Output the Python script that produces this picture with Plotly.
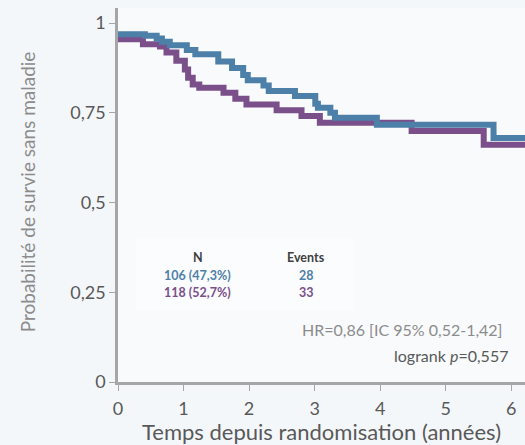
import plotly.graph_objects as go

# Kaplan-Meier steps (time in years, survival probability)
blue_t = [0, 0.41, 0.59, 0.67, 0.79, 1.05, 1.18, 1.53, 1.74, 1.91, 1.98, 2.22, 2.30, 2.70, 3.01, 3.05, 3.24, 3.31, 3.95, 5.73, 6.21]
blue_s = [0.969, 0.965, 0.957, 0.948, 0.938, 0.925, 0.913, 0.893, 0.875, 0.855, 0.841, 0.826, 0.811, 0.797, 0.775, 0.764, 0.750, 0.736, 0.717, 0.680, 0.680]

purple_t = [0, 0.38, 0.64, 0.74, 0.89, 1.02, 1.07, 1.14, 1.24, 1.61, 1.79, 1.96, 2.42, 2.80, 3.08, 4.48, 5.58, 6.21]
purple_s = [0.955, 0.941, 0.935, 0.918, 0.895, 0.871, 0.848, 0.829, 0.820, 0.806, 0.789, 0.773, 0.757, 0.741, 0.722, 0.699, 0.661, 0.661]

x_ticks = [0, 1, 2, 3, 4, 5, 6]
y_ticks = [0, 0.25, 0.5, 0.75, 1]
y_ticktext = ["0", "0,25", "0,5", "0,75", "1"]

BLUE = "#4d80a8"
PURPLE = "#7a4f8a"
FONT = "Lato"

fig = go.Figure()
fig.add_trace(go.Scatter(x=purple_t, y=purple_s, mode="lines", line=dict(color=PURPLE, width=6, shape="hv"), showlegend=False, hoverinfo="skip"))
fig.add_trace(go.Scatter(x=blue_t, y=blue_s, mode="lines", line=dict(color=BLUE, width=6, shape="hv"), showlegend=False, hoverinfo="skip"))

# faint whitish box behind table
fig.add_shape(type="rect", xref="x", yref="y", x0=0.27, x1=3.6, y0=0.2, y1=0.4, fillcolor="rgba(255,255,255,0.45)", line=dict(width=0), layer="below")

tf = dict(family=FONT, size=12.5)
fig.add_annotation(x=1.22, y=0.348, text="<b>N</b>", showarrow=False, font=dict(tf, color="#404040"))
fig.add_annotation(x=2.87, y=0.348, text="<b>Events</b>", showarrow=False, font=dict(tf, color="#404040"))
fig.add_annotation(x=1.22, y=0.298, text="<b>106 (47,3%)</b>", showarrow=False, font=dict(tf, color=BLUE))
fig.add_annotation(x=2.87, y=0.298, text="<b>28</b>", showarrow=False, font=dict(tf, color=BLUE))
fig.add_annotation(x=1.22, y=0.248, text="<b>118 (52,7%)</b>", showarrow=False, font=dict(tf, color=PURPLE))
fig.add_annotation(x=2.87, y=0.248, text="<b>33</b>", showarrow=False, font=dict(tf, color=PURPLE))

fig.add_annotation(x=5.91, y=0.145, text="HR=0,86 [IC 95% 0,52-1,42]", showarrow=False, xanchor="right", font=dict(family=FONT, size=16, color="#8c8c8c"))
fig.add_annotation(x=5.91, y=0.075, xshift=5, text="logrank <i>p</i>=0,557", showarrow=False, xanchor="right", font=dict(family=FONT, size=16, color="#595959"))

# y-axis title as rotated annotation
fig.add_annotation(x=0, xref="paper", xshift=-104, y=0.53, yref="y", text="Probabilité de survie sans maladie", textangle=-90,
                   showarrow=False, font=dict(family=FONT, size=19, color="#8c8c8c"))

fig.update_layout(
    width=525, height=445,
    margin=dict(l=118, r=0, t=8, b=63),
    paper_bgcolor="#f4f7fa", plot_bgcolor="#f8fafc",
    font=dict(family=FONT, color="#595959"),
    xaxis=dict(range=[0, 6.21], tickvals=x_ticks, showgrid=False, zeroline=False,
               showline=True, linecolor="#a6a6a6", linewidth=2.5, ticks="outside", ticklen=6, tickcolor="#a6a6a6",
               ticklabelstandoff=3,
               tickfont=dict(family=FONT, size=18, color="#595959"),
               title=dict(text="Temps depuis randomisation (années)", font=dict(family=FONT, size=22, color="#595959"), standoff=0)),
    yaxis=dict(range=[0, 1.042], tickvals=y_ticks, ticktext=y_ticktext, showgrid=False, zeroline=False,
               showline=True, linecolor="#a6a6a6", linewidth=2.5, ticks="outside", ticklen=6, tickcolor="#a6a6a6",
               tickfont=dict(family=FONT, size=18, color="#595959")),
)

fig.write_html("out.html", config={"displayModeBar": False},
               post_script="document.body.style.margin='0';document.body.style.overflow='hidden';")
